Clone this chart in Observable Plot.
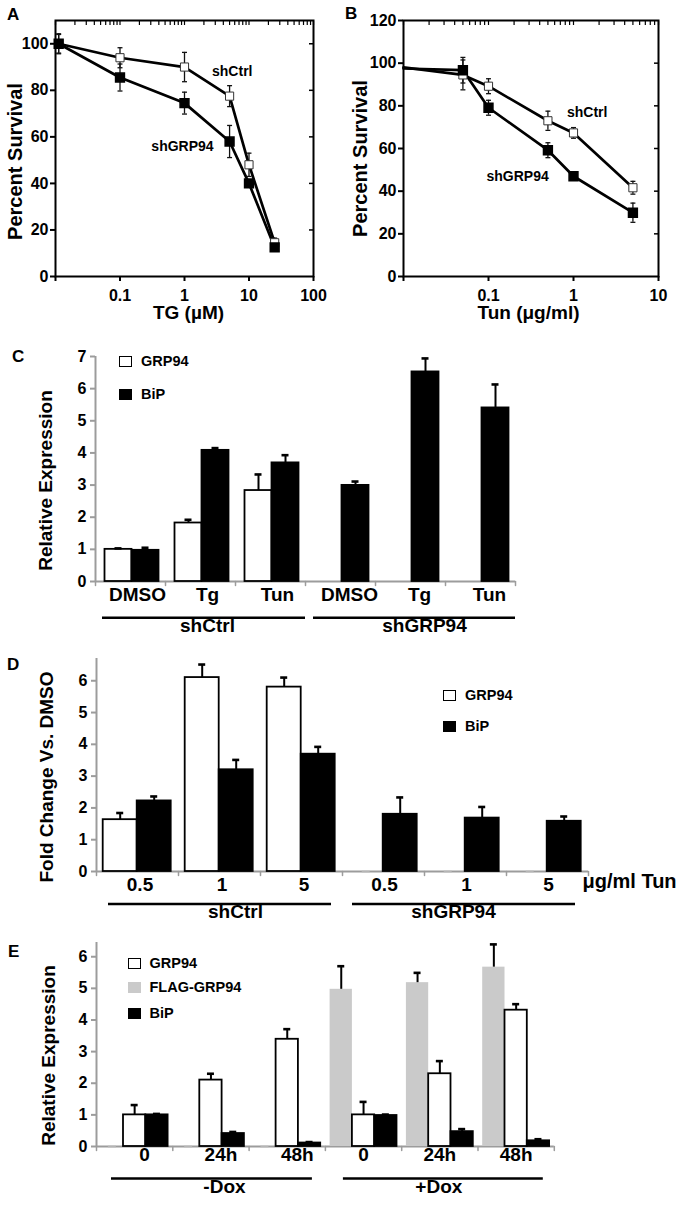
<!DOCTYPE html>
<html><head><meta charset="utf-8">
<script src="https://cdn.jsdelivr.net/npm/d3@7"></script>
<script src="https://cdn.jsdelivr.net/npm/@observablehq/plot@0.6"></script>
<style>
body{margin:0;background:#fff;}
#page{position:relative;width:690px;height:1206px;overflow:hidden;font-family:'Liberation Sans',Arial,Helvetica,sans-serif;font-weight:bold;color:#000;}
.wrap{position:absolute;}
.wrap svg{display:block;overflow:visible;}
.letter{position:absolute;font-size:17px;line-height:1;}
.leg{position:absolute;height:16px;font-size:14.5px;line-height:1;display:flex;align-items:center;white-space:nowrap;}
.leg .box{display:inline-block;width:13px;height:11px;margin-right:9px;box-sizing:border-box;}
</style></head><body><div id="page"></div>
<script>
// ---------- Panel A : TG dose response ----------
const concA = [0.0112, 0.1, 1, 5, 10, 25];
const ctrlA = [100, 94, 90, 77.5, 48, 14.5];
const ctrlErrA = [4, 4.3, 6.3, 4.5, 5, 2];
const grpA = [100, 85.5, 74.5, 58, 40, 12.5];
const grpErrA = [4.3, 5.8, 4.7, 6.9, 1.5, 1];
const yTicksA = [0, 20, 40, 60, 80, 100];
const xTicksA = [0.01, 0.1, 1, 10, 100];
const labelsA = [{text: "shCtrl", x: 5.5, y: 88}, {text: "shGRP94", x: 0.93, y: 56}];

// ---------- Panel B : Tun dose response ----------
const concB = [0.01, 0.05, 0.1, 0.5, 1, 5];
const ctrlB = [98, 94.5, 89.2, 73, 67.3, 41.6];
const ctrlErrB = [0, 7, 3.5, 4.5, 2.5, 3];
const grpB = [97.5, 96.7, 79.1, 59.2, 47, 29.9];
const grpErrB = [0, 6, 3.5, 3.5, 1.5, 4.5];
const yTicksB = [0, 20, 40, 60, 80, 100, 120];
const xTicksB = [0.01, 0.1, 1, 10];
const labelsB = [{text: "shCtrl", x: 1.45, y: 77}, {text: "shGRP94", x: 0.22, y: 47}];

// ---------- Panel C ----------
const cellsC = ["shCtrl", "shGRP94"];
const groupsC = ["DMSO", "Tg", "Tun"];
const grp94C = [1.00, 1.82, 2.83, 0, 0, 0];
const grp94ErrC = [0.03, 0.10, 0.50, 0, 0, 0];
const bipC = [0.97, 4.08, 3.69, 2.99, 6.52, 5.40];
const bipErrC = [0.08, 0.07, 0.24, 0.12, 0.42, 0.73];
const yTicksC = [0, 1, 2, 3, 4, 5, 6, 7];

// ---------- Panel D ----------
const cellsD = ["shCtrl", "shGRP94"];
const groupsD = ["0.5", "1", "5"];
const grp94D = [1.63, 6.10, 5.80, 0, 0, 0];
const grp94ErrD = [0.21, 0.41, 0.30, 0, 0, 0];
const bipD = [2.22, 3.20, 3.69, 1.80, 1.68, 1.58];
const bipErrD = [0.14, 0.31, 0.23, 0.53, 0.35, 0.15];
const yTicksD = [0, 1, 2, 3, 4, 5, 6];

// ---------- Panel E ----------
const cellsE = ["-Dox", "+Dox"];
const groupsE = ["0", "24h", "48h"];
const flagE = [0, 0, 0, 4.97, 5.18, 5.67];
const flagErrE = [0, 0, 0, 0.73, 0.31, 0.72];
const grp94E = [1.00, 2.10, 3.39, 1.00, 2.30, 4.31];
const grp94ErrE = [0.31, 0.20, 0.32, 0.41, 0.40, 0.19];
const bipE = [1.00, 0.41, 0.11, 0.98, 0.47, 0.18];
const bipErrE = [0.03, 0.05, 0.03, 0.03, 0.08, 0.05];
const yTicksE = [0, 1, 2, 3, 4, 5, 6];

// ---------- helpers ----------
const FONT = "'Liberation Sans', Arial, Helvetica, sans-serif";
const GRAY = "#9c9c9c";
const FILLS = {"GRP94": "white", "BiP": "black", "FLAG-GRP94": "#cacaca"};
const STROKES = {"GRP94": "black", "BiP": "black", "FLAG-GRP94": "none"};
const page = document.getElementById("page");
const capSymbol = {draw(ctx, size) { const w = Math.sqrt(size) / 2; ctx.moveTo(-w, 0); ctx.lineTo(w, 0); }};
const tickShape = {draw(ctx, l) { ctx.moveTo(0, 0); ctx.lineTo(0, -l); }};

function place(node, left, top) {
  const d = document.createElement("div");
  d.className = "wrap";
  d.style.left = left + "px";
  d.style.top = top + "px";
  d.appendChild(node);
  page.appendChild(d);
}

function survival(cfg) {
  const rows = [];
  cfg.conc.forEach((x, i) => {
    rows.push({series: "shCtrl", x, y: cfg.ctrl[i], e: cfg.ctrlErr[i]});
    rows.push({series: "shGRP94", x, y: cfg.grp[i], e: cfg.grpErr[i]});
  });
  const minor = d3.scaleLog().domain(cfg.xDomain).ticks();
  const withErr = rows.filter(d => d.e > 0);
  const shown = rows.filter(d => d.x > cfg.xDomain[0]);
  return Plot.plot({
    width: 345, height: 330,
    marginLeft: cfg.mL, marginRight: 32, marginTop: 20, marginBottom: 54,
    style: {fontFamily: FONT, fontWeight: "bold", fontSize: "16px", color: "black", background: "transparent", overflow: "visible"},
    x: {type: "log", domain: cfg.xDomain},
    y: {domain: [0, cfg.yMax]},
    marks: [
      Plot.frame({strokeWidth: 2}),
      Plot.axisY({anchor: "left", ticks: cfg.yTicks, tickSize: 5, tickPadding: 2, strokeWidth: 2, fontSize: 16, fontWeight: "bold", tickFormat: d => String(d), label: null}),
      Plot.axisY({anchor: "right", ticks: cfg.yTicks.filter(t => t > 0 && t < cfg.yMax), tickSize: -5, strokeWidth: 1.5, tickFormat: () => "", label: null}),
      Plot.axisX({anchor: "bottom", ticks: cfg.xTicks, tickSize: 5, tickPadding: 8, strokeWidth: 2, fontSize: 16, fontWeight: "bold", tickFormat: d => d < 0.05 ? "" : String(d), label: null}),
      Plot.axisX({anchor: "top", ticks: minor, tickSize: -4, strokeWidth: 1.2, tickFormat: () => "", label: null}),
      Plot.line(rows, {x: "x", y: "y", z: "series", stroke: "black", strokeWidth: 2.7}),
      Plot.ruleX(withErr, {x: "x", y1: d => d.y - d.e, y2: d => d.y + d.e, stroke: "#111", strokeWidth: 1.3}),
      Plot.dot(withErr, {x: "x", y: d => d.y + d.e, symbol: capSymbol, r: 2.8, stroke: "#111", strokeWidth: 1.3, fill: "none"}),
      Plot.dot(withErr, {x: "x", y: d => d.y - d.e, symbol: capSymbol, r: 2.8, stroke: "#111", strokeWidth: 1.3, fill: "none"}),
      Plot.dot(shown.filter(d => d.series === "shCtrl"), {x: "x", y: "y", symbol: "square", r: 4.6, fill: "white", stroke: "#333", strokeWidth: 1}),
      Plot.dot(shown.filter(d => d.series === "shGRP94"), {x: "x", y: "y", symbol: "square", r: 5, fill: "black", stroke: "black"}),
      Plot.text(cfg.labels, {x: "x", y: "y", text: "text", fontSize: 14, fontWeight: "bold"}),
      Plot.text([cfg.xLabel], {text: d => d, frameAnchor: "bottom", dy: 42, dx: cfg.xLabelDx, fontSize: 19, fontWeight: "bold"}),
      Plot.text(["Percent Survival"], {text: d => d, frameAnchor: "left", textAnchor: "middle", rotate: -90, dx: cfg.yLabelDx, dy: cfg.yLabelDy, fontSize: 20, fontWeight: "bold"})
    ]
  });
}

function barPanel(cfg) {
  const {cells, groups, series, yMax, gw, pad, bw} = cfg;
  const n = groups.length;
  const rows = [];
  series.forEach((s, k) => {
    s.values.forEach((v, i) => {
      rows.push({cell: cells[Math.floor(i / n)], group: groups[i % n], k, name: s.name, value: v, err: s.errs[i]});
    });
  });
  const center = k => pad + k * bw + bw / 2;
  const marks = [];
  marks.push(Plot.ruleY([0], {stroke: GRAY, strokeWidth: 2}));
  marks.push(Plot.ruleX([groups[0]], {fx: () => cells[0], x: d => d, y1: 0, y2: yMax, dx: -gw / 2, stroke: GRAY, strokeWidth: 2}));
  marks.push(Plot.vector(groups, {x: d => d, y: () => 0, dx: -gw / 2, length: 4, rotate: 180, anchor: "start", shape: tickShape, stroke: GRAY, strokeWidth: 1.5}));
  marks.push(Plot.vector([groups[n - 1]], {fx: () => cells[cells.length - 1], x: d => d, y: () => 0, dx: gw / 2, length: 4, rotate: 180, anchor: "start", shape: tickShape, stroke: GRAY, strokeWidth: 1.5}));
  series.forEach((s, k) => {
    const mine = rows.filter(d => d.k === k);
    marks.push(Plot.barY(mine.filter(d => d.value > 0), {
      fx: "cell", x: "group", y: "value",
      fill: FILLS[s.name], stroke: STROKES[s.name], strokeWidth: 1.8,
      insetLeft: pad + k * bw, insetRight: gw - pad - (k + 1) * bw
    }));
    if (cfg.stubs) {
      marks.push(Plot.tickY(mine.filter(d => d.value === 0), {
        fx: "cell", x: "group", y: () => 0, stroke: "#b5b5b5", strokeWidth: 1.5,
        insetLeft: center(k) - 4, insetRight: gw - center(k) - 4
      }));
    }
  });
  series.forEach((s, k) => {
    const mine = rows.filter(d => d.k === k && d.err > 0 && d.value > 0);
    marks.push(Plot.ruleX(mine, {fx: "cell", x: "group", y1: "value", y2: d => d.value + d.err, dx: center(k) - gw / 2, stroke: "black", strokeWidth: 2}));
    marks.push(Plot.tickY(mine, {fx: "cell", x: "group", y: d => d.value + d.err, stroke: "black", strokeWidth: 2.6, insetLeft: center(k) - 3.5, insetRight: gw - center(k) - 3.5}));
  });
  marks.push(Plot.axisY({ticks: cfg.yTicks, tickSize: 5, tickPadding: 4, stroke: GRAY, strokeWidth: 2, fill: "black", fontSize: 16, fontWeight: "bold", tickFormat: d => String(d), label: null}));
  cells.forEach((c, i) => {
    marks.push(Plot.text(groups, {fx: () => c, x: d => d, text: d => d, frameAnchor: "bottom", dy: cfg.groupDy, dx: cfg.groupDx[i], fontSize: 19, fontWeight: "bold"}));
    marks.push(Plot.ruleY([0], {fx: () => c, dy: cfg.lineDy, insetLeft: cfg.lineInset[i][0], insetRight: cfg.lineInset[i][1], stroke: "black", strokeWidth: 2.5}));
    marks.push(Plot.text([c], {fx: d => d, text: d => d, frameAnchor: "bottom", dy: cfg.cellDy, dx: cfg.cellDx[i], fontSize: 19, fontWeight: "bold"}));
  });
  marks.push(Plot.text([cfg.yLabel], {fx: () => cells[0], text: d => d, frameAnchor: "left", textAnchor: "middle", rotate: -90, dx: cfg.yLabelDx, dy: cfg.yLabelDy, fontSize: 19, fontWeight: "bold"}));
  if (cfg.unit) {
    marks.push(Plot.text([cfg.unit], {fx: () => cells[cells.length - 1], text: d => d, frameAnchor: "bottom-right", textAnchor: "start", dx: -6, dy: 16, fontSize: 20, fontWeight: "bold"}));
  }
  return Plot.plot({
    width: cfg.width, height: cfg.height,
    marginLeft: cfg.mL, marginRight: cfg.width - cfg.mL - gw * n * cells.length, marginTop: cfg.mT, marginBottom: cfg.mB,
    style: {fontFamily: FONT, fontWeight: "bold", fontSize: "16px", color: "black", background: "transparent", overflow: "visible"},
    fx: {domain: cells, padding: 0, axis: null, round: false},
    x: {domain: groups, padding: 0, axis: null, round: false},
    y: {domain: [0, yMax]},
    marks
  });
}

function legend(items, left, centers, gapText) {
  items.forEach((name, i) => {
    const d = document.createElement("div");
    d.className = "leg";
    d.style.left = left + "px";
    d.style.top = (centers[i] - 8) + "px";
    const b = document.createElement("span");
    b.className = "box";
    b.style.background = FILLS[name];
    b.style.border = STROKES[name] === "none" ? "none" : "1.5px solid black";
    b.style.marginRight = gapText + "px";
    d.appendChild(b);
    d.appendChild(document.createTextNode(name));
    page.appendChild(d);
  });
}

function letter(t, left, top) {
  const d = document.createElement("div");
  d.className = "letter";
  d.style.left = left + "px";
  d.style.top = top + "px";
  d.textContent = t;
  page.appendChild(d);
}

// ---------- build ----------
place(survival({conc: concA, ctrl: ctrlA, ctrlErr: ctrlErrA, grp: grpA, grpErr: grpErrA,
  xDomain: [0.01, 100], xTicks: xTicksA, yMax: 110, yTicks: yTicksA, labels: labelsA,
  xLabel: "TG (\u00b5M)", mL: 55, xLabelDx: 4, yLabelDx: -39.5, yLabelDy: 13}), 0, 0);

place(survival({conc: concB, ctrl: ctrlB, ctrlErr: ctrlErrB, grp: grpB, grpErr: grpErrB,
  xDomain: [0.01, 10], xTicks: xTicksB, yMax: 120, yTicks: yTicksB, labels: labelsB,
  xLabel: "Tun (\u03bcg/ml)", mL: 58, xLabelDx: -2.5, yLabelDx: -42.5, yLabelDy: 10}), 345, 0);

place(barPanel({cells: cellsC, groups: groupsC,
  series: [{name: "GRP94", values: grp94C, errs: grp94ErrC}, {name: "BiP", values: bipC, errs: bipErrC}],
  yMax: 7, yTicks: yTicksC, width: 560, height: 306, mL: 95, mT: 16, mB: 65,
  gw: 70, pad: 9.5, bw: 27, stubs: false,
  groupDy: 19, groupDx: [7, 9], lineDy: 36.3, lineInset: [[7, 0], [8, 0]], cellDy: 50.7, cellDx: [7, 14],
  yLabel: "Relative Expression", yLabelDx: -50, yLabelDy: 11.5}), 0, 340);

place(barPanel({cells: cellsD, groups: groupsD,
  series: [{name: "GRP94", values: grp94D, errs: grp94ErrD}, {name: "BiP", values: bipD, errs: bipErrD}],
  yMax: 6.7, yTicks: yTicksD, width: 690, height: 285, mL: 96, mT: 12, mB: 60,
  gw: 82, pad: 6.7, bw: 34, stubs: true,
  groupDy: 19.3, groupDx: [2.5, 1], lineDy: 32.6, lineInset: [[12, 11], [10, 13]], cellDy: 46, cellDx: [16, -12],
  yLabel: "Fold Change Vs. DMSO", yLabelDx: -50, yLabelDy: 12, unit: "\u03bcg/ml Tun"}), 0, 646);

place(barPanel({cells: cellsE, groups: groupsE,
  series: [{name: "FLAG-GRP94", values: flagE, errs: flagErrE}, {name: "GRP94", values: grp94E, errs: grp94ErrE}, {name: "BiP", values: bipE, errs: bipErrE}],
  yMax: 6.45, yTicks: yTicksE, width: 600, height: 275, mL: 96, mT: 11, mB: 60,
  gw: 76.3, pad: 4.7, bw: 22.3, stubs: true,
  groupDy: 14.5, groupDx: [10, 0], lineDy: 32, lineInset: [[15, 13], [18, 11]], cellDy: 46, cellDx: [13.5, -1],
  yLabel: "Relative Expression", yLabelDx: -48, yLabelDy: 11}), 0, 931);

legend(["GRP94", "BiP"], 119, [361.7, 394.5], 9);
legend(["GRP94", "BiP"], 443, [695, 726], 9);
legend(["GRP94", "FLAG-GRP94", "BiP"], 128, [963, 987, 1013], 8.5);

letter("A", 7, 6);
letter("B", 345, 5);
letter("C", 12, 348);
letter("D", 7, 656);
letter("E", 8, 943);
</script></body></html>
